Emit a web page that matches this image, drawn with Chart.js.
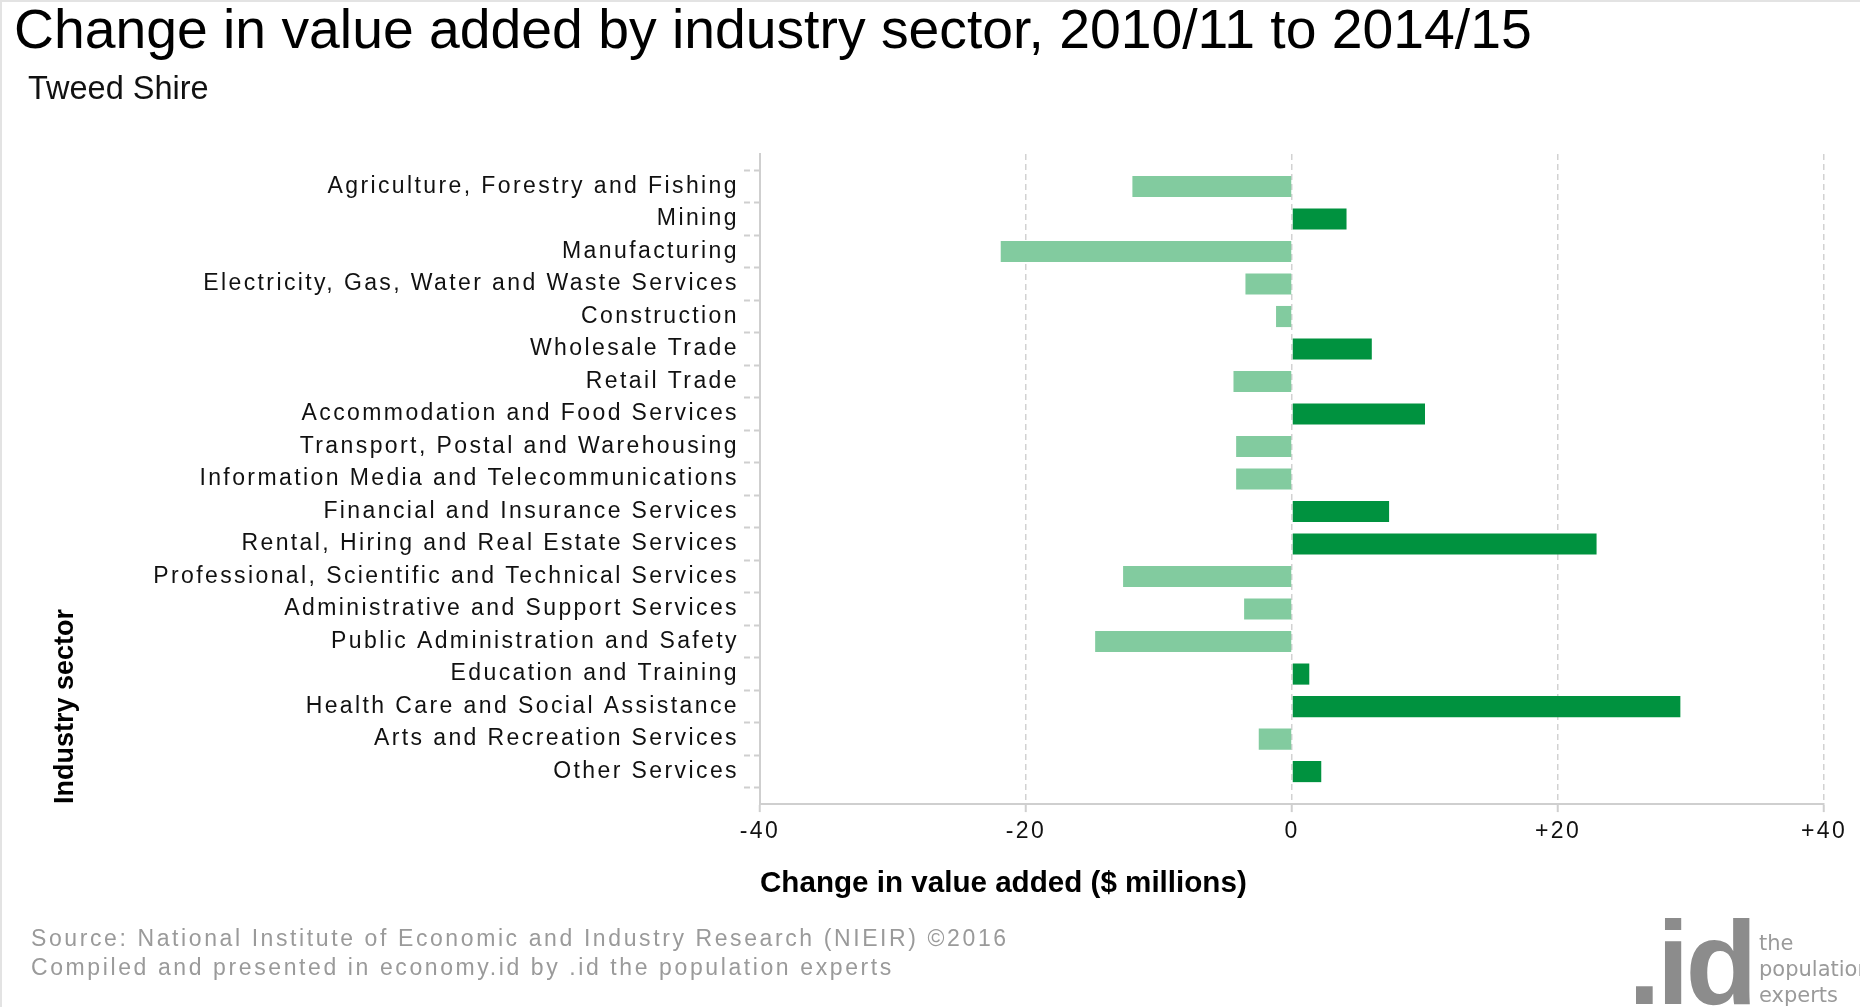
<!DOCTYPE html>
<html>
<head>
<meta charset="utf-8">
<script src="https://cdn.jsdelivr.net/npm/chart.js@4.4.1/dist/chart.umd.min.js"></script>
<style>
  html, body { margin: 0; padding: 0; background: #fff; }
  body { width: 1860px; height: 1007px; position: relative; overflow: hidden; font-family: 'Liberation Sans', Arial, sans-serif; }
  #frame { position: absolute; left: 0; top: 0; right: 0; bottom: 0; border-top: 2px solid #e3e3e3; border-left: 2px solid #e3e3e3; pointer-events: none; }
  #chart-wrap { position: absolute; left: 0; top: 0; width: 1860px; height: 1007px; }
  .title { position: absolute; left: 14px; top: 2px; font-size: 55.3px; line-height: 54px; color: #000; white-space: nowrap; }
  .subtitle { position: absolute; left: 28px; top: 72px; font-size: 32.5px; line-height: 32px; color: #111; white-space: nowrap; }
  .source { position: absolute; left: 31px; top: 924px; font-size: 23px; line-height: 29px; letter-spacing: 2.6px; color: #9a9a9a; white-space: nowrap; }
  .logo { position: absolute; left: 1628px; top: 904px; font-size: 118px; line-height: 118px; font-weight: bold; color: #8c8c8c; letter-spacing: -4px; white-space: nowrap; }
  .logo-text { position: absolute; left: 1759px; top: 930px; font-family: 'DejaVu Sans', sans-serif; font-size: 21px; line-height: 26px; color: #9a9a9a; white-space: nowrap; }
</style>
</head>
<body>
<div id="chart-wrap"><canvas id="value-added-chart" width="1860" height="1007"></canvas></div>
<div class="title">Change in value added by industry sector, 2010/11 to 2014/15</div>
<div class="subtitle">Tweed Shire</div>
<div class="source">Source: National Institute of Economic and Industry Research (NIEIR) ©2016<br>Compiled and presented in economy.id by .id the population experts</div>
<div class="logo">.id</div>
<div class="logo-text">the<br>population<br>experts</div>
<div id="frame"></div>
<script>
// industry sectors, top to bottom
const categories = [
  'Agriculture, Forestry and Fishing',
  'Mining',
  'Manufacturing',
  'Electricity, Gas, Water and Waste Services',
  'Construction',
  'Wholesale Trade',
  'Retail Trade',
  'Accommodation and Food Services',
  'Transport, Postal and Warehousing',
  'Information Media and Telecommunications',
  'Financial and Insurance Services',
  'Rental, Hiring and Real Estate Services',
  'Professional, Scientific and Technical Services',
  'Administrative and Support Services',
  'Public Administration and Safety',
  'Education and Training',
  'Health Care and Social Assistance',
  'Arts and Recreation Services',
  'Other Services'
];

// change in value added, $ millions
const changeValues = [
  -12.0, 4.1, -21.9, -3.5, -1.2, 6.0, -4.4, 10.0, -4.2, -4.2,
  7.3, 22.9, -12.7, -3.6, -14.8, 1.3, 29.2, -2.5, 2.2
];

const xTicks = [-40, -20, 0, 20, 40];

const POS_COLOR = '#00923f';
const NEG_COLOR = '#82cb9f';

// blank slot above and below so the axis runs a full row past the bars
const labels = [''].concat(categories, ['']);
const data = [null].concat(changeValues, [null]);
const colors = data.map(v => (v !== null && v >= 0) ? POS_COLOR : NEG_COLOR);

// tick labels in the reference are drawn with extra tracking
const trackingPlugin = {
  id: 'tracking',
  beforeDraw(chart) { chart.ctx.letterSpacing = '0px'; },
  afterDatasetsDraw(chart) { chart.ctx.letterSpacing = '2.4px'; },
  afterDraw(chart) { chart.ctx.letterSpacing = '0px'; }
};

const canvas = document.getElementById('value-added-chart');

new Chart(canvas, {
  type: 'bar',
  data: {
    labels: labels,
    datasets: [{
      label: 'Change in value added',
      data: data,
      backgroundColor: colors,
      borderWidth: 0,
      barPercentage: 0.65,
      categoryPercentage: 1
    }]
  },
  options: {
    indexAxis: 'y',
    responsive: false,
    animation: false,
    layout: {
      padding: { left: 30, right: 36, top: 154, bottom: 105.5 }
    },
    scales: {
      x: {
        min: xTicks[0],
        max: xTicks[xTicks.length - 1],
        afterBuildTicks: (scale) => {
          scale.ticks = xTicks.map(v => ({ value: v }));
        },
        ticks: {
          z: 1,
          color: '#111',
          padding: 6,
          maxRotation: 0,
          font: { family: 'Liberation Sans', size: 23 },
          callback: (value) => value > 0 ? '+' + value : String(value)
        },
        grid: {
          color: '#d2d2d2',
          lineWidth: 1.5,
          drawTicks: true,
          tickLength: 8,
          tickColor: '#cfcfcf',
          tickWidth: 2
        },
        border: {
          display: true,
          color: '#cfcfcf',
          width: 2,
          dash: [6, 4]
        },
        title: {
          display: true,
          text: 'Change in value added ($ millions)',
          color: '#000',
          align: 'start',
          font: { family: 'Liberation Sans', size: 29.6, weight: 'bold' },
          padding: { top: 14.3, bottom: 0 }
        }
      },
      y: {
        type: 'category',
        offset: false,
        afterFit: (scale) => { scale.width = 730; },
        ticks: {
          z: 1,
          color: '#111',
          padding: 5,
          autoSkip: false,
          font: { family: 'Liberation Sans', size: 23 }
        },
        grid: {
          drawOnChartArea: false,
          drawTicks: true,
          tickLength: 16,
          tickColor: '#cfcfcf',
          tickWidth: 2,
          tickBorderDash: [6, 4]
        },
        border: {
          display: true,
          color: '#cfcfcf',
          width: 2
        },
        title: {
          display: true,
          text: 'Industry sector',
          color: '#000',
          align: 'start',
          font: { family: 'Liberation Sans', size: 27, weight: 'bold' },
          padding: { top: 19, bottom: 0 }
        }
      }
    },
    plugins: {
      legend: { display: false },
      tooltip: { enabled: false }
    }
  },
  plugins: [trackingPlugin]
});
</script>
</body>
</html>
